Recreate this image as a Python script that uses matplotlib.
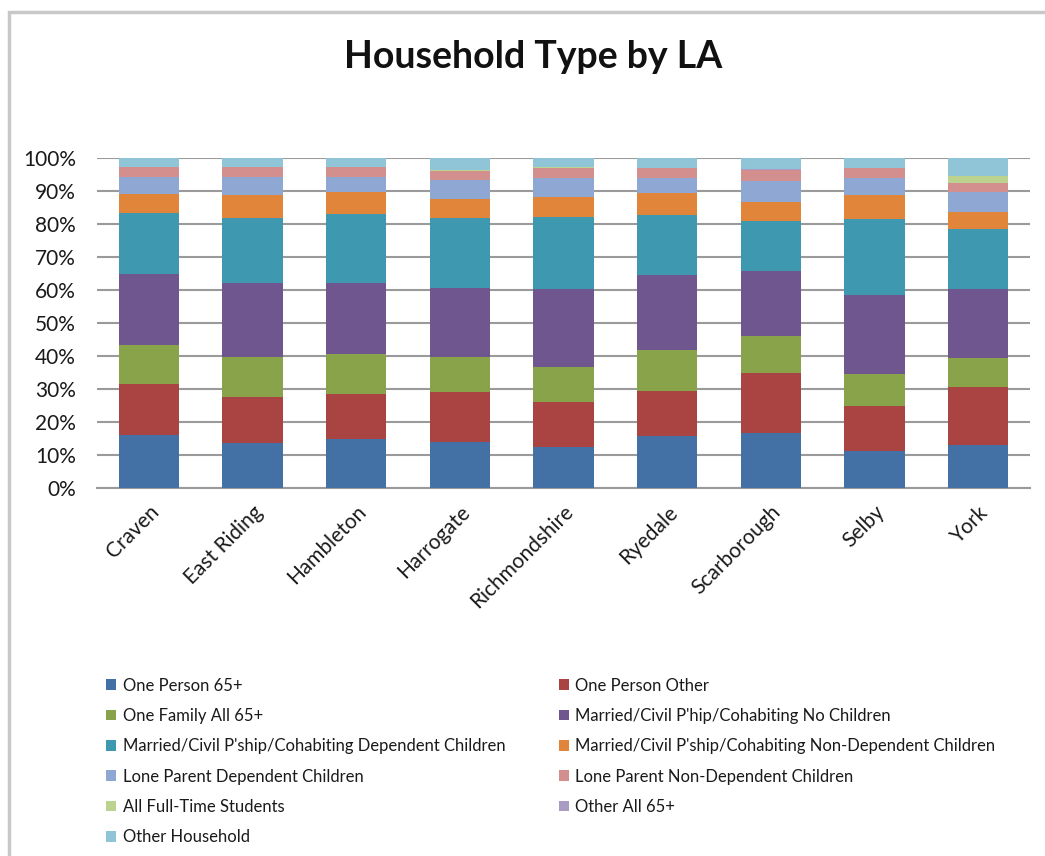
import numpy as np
import matplotlib
matplotlib.use('Agg')
import matplotlib.pyplot as plt
from matplotlib.patches import Rectangle
from matplotlib.ticker import FuncFormatter

plt.rcParams['font.family'] = ['Lato', 'DejaVu Sans']

# Local authorities
las = ['Craven', 'East Riding', 'Hambleton', 'Harrogate', 'Richmondshire',
       'Ryedale', 'Scarborough', 'Selby', 'York']

# share of households (%) by type
one_person_65 = [16.1, 13.7, 14.7, 13.9, 12.5, 15.9, 16.6, 11.3, 13.0]
one_person_other = [15.3, 14.0, 13.7, 15.3, 13.7, 13.5, 18.1, 13.6, 17.5]
one_family_65 = [11.9, 12.1, 12.2, 10.4, 10.6, 12.3, 11.5, 9.6, 9.0]
married_no_child = [21.7, 22.2, 21.6, 21.1, 23.5, 22.7, 19.6, 23.9, 20.7]
married_dep_child = [18.2, 19.9, 20.7, 21.2, 21.9, 18.3, 15.2, 23.0, 18.2]
married_nondep_child = [5.9, 6.9, 6.7, 5.7, 6.1, 6.6, 5.8, 7.4, 5.2]
lone_dep_child = [5.2, 5.3, 4.7, 5.7, 5.7, 4.5, 6.3, 5.0, 6.0]
lone_nondep_child = [2.9, 3.1, 2.9, 2.9, 3.1, 3.1, 3.3, 3.1, 2.9]
fulltime_students = [0.1, 0.1, 0.1, 0.1, 0.1, 0.1, 0.1, 0.1, 2.1]
other_all_65 = [0.1, 0.1, 0.1, 0.1, 0.1, 0.1, 0.1, 0.1, 0.1]
other_household = [2.5, 2.6, 2.6, 3.6, 2.7, 2.9, 3.3, 2.9, 5.3]

series = [one_person_65, one_person_other, one_family_65, married_no_child,
          married_dep_child, married_nondep_child, lone_dep_child,
          lone_nondep_child, fulltime_students, other_all_65, other_household]
labels = ['One Person 65+', 'One Person Other', 'One Family All 65+',
          'Married/Civil P\'hip/Cohabiting No Children',
          'Married/Civil P\'ship/Cohabiting Dependent Children',
          'Married/Civil P\'ship/Cohabiting Non-Dependent Children',
          'Lone Parent Dependent Children', 'Lone Parent Non-Dependent Children',
          'All Full-Time Students', 'Other All 65+', 'Other Household']
colors = ['#4371A6', '#A94442', '#88A34A', '#70568F', '#3E98B0', '#E0853A',
          '#8FA8D3', '#D38F8E', '#BBD38F', '#A99BC4', '#8FC5D6']

fig = plt.figure(figsize=(10.45, 8.56), dpi=100)
ax = fig.add_axes([0.0928, 0.4299, 0.8928, 0.3855])

x = np.arange(len(las))
bottom = np.zeros(len(las))
handles = []
for vals, lab, col in zip(series, labels, colors):
    v = np.array(vals)
    b = ax.bar(x, v, 0.58, bottom=bottom, color=col, label=lab, zorder=3)
    handles.append(b)
    bottom += v

ax.set_xlim(-0.5, len(las) - 0.5)
ax.set_ylim(0, 100)
ax.set_yticks(np.arange(0, 101, 10))
ax.yaxis.set_major_formatter(FuncFormatter(lambda v, p: '%d%%' % v))
ax.grid(axis='y', color='#9a9a9a', lw=1.5, zorder=0)
for s in ['top', 'right', 'left']:
    ax.spines[s].set_visible(False)
ax.spines['bottom'].set_color('#9a9a9a')
ax.spines['bottom'].set_linewidth(1.5)
ax.tick_params(axis='y', length=0, pad=15, labelsize=15)
ax.tick_params(axis='x', length=0, pad=10, labelsize=15)
ax.set_xticks(x)
ax.set_xticklabels(las, rotation=45, ha='right', rotation_mode='anchor')
for t in ax.get_xticklabels() + ax.get_yticklabels():
    t.set_color('#1a1a1a')

fig.text(0.51, 0.933, 'Household Type by LA', ha='center', va='center',
         fontsize=27, fontweight='bold', color='#111111')

order = [0, 2, 4, 6, 8, 10, 1, 3, 5, 7, 9]
leg = fig.legend([handles[i] for i in order], [labels[i] for i in order],
                 ncol=2, loc='upper left', bbox_to_anchor=(0.087, 0.226),
                 frameon=False, fontsize=12, handlelength=0.6, handleheight=0.6,
                 handletextpad=0.4, labelspacing=0.86, columnspacing=3.2)
for t in leg.get_texts():
    t.set_color('#1a1a1a')

# light border round the chart
fig.add_artist(Rectangle((9 / 1045, -0.1), 1.2, 1 - 12 / 856 + 0.1,
                         transform=fig.transFigure, fill=False,
                         ec='#c8c8c8', lw=2.5))

plt.savefig('out.png')
